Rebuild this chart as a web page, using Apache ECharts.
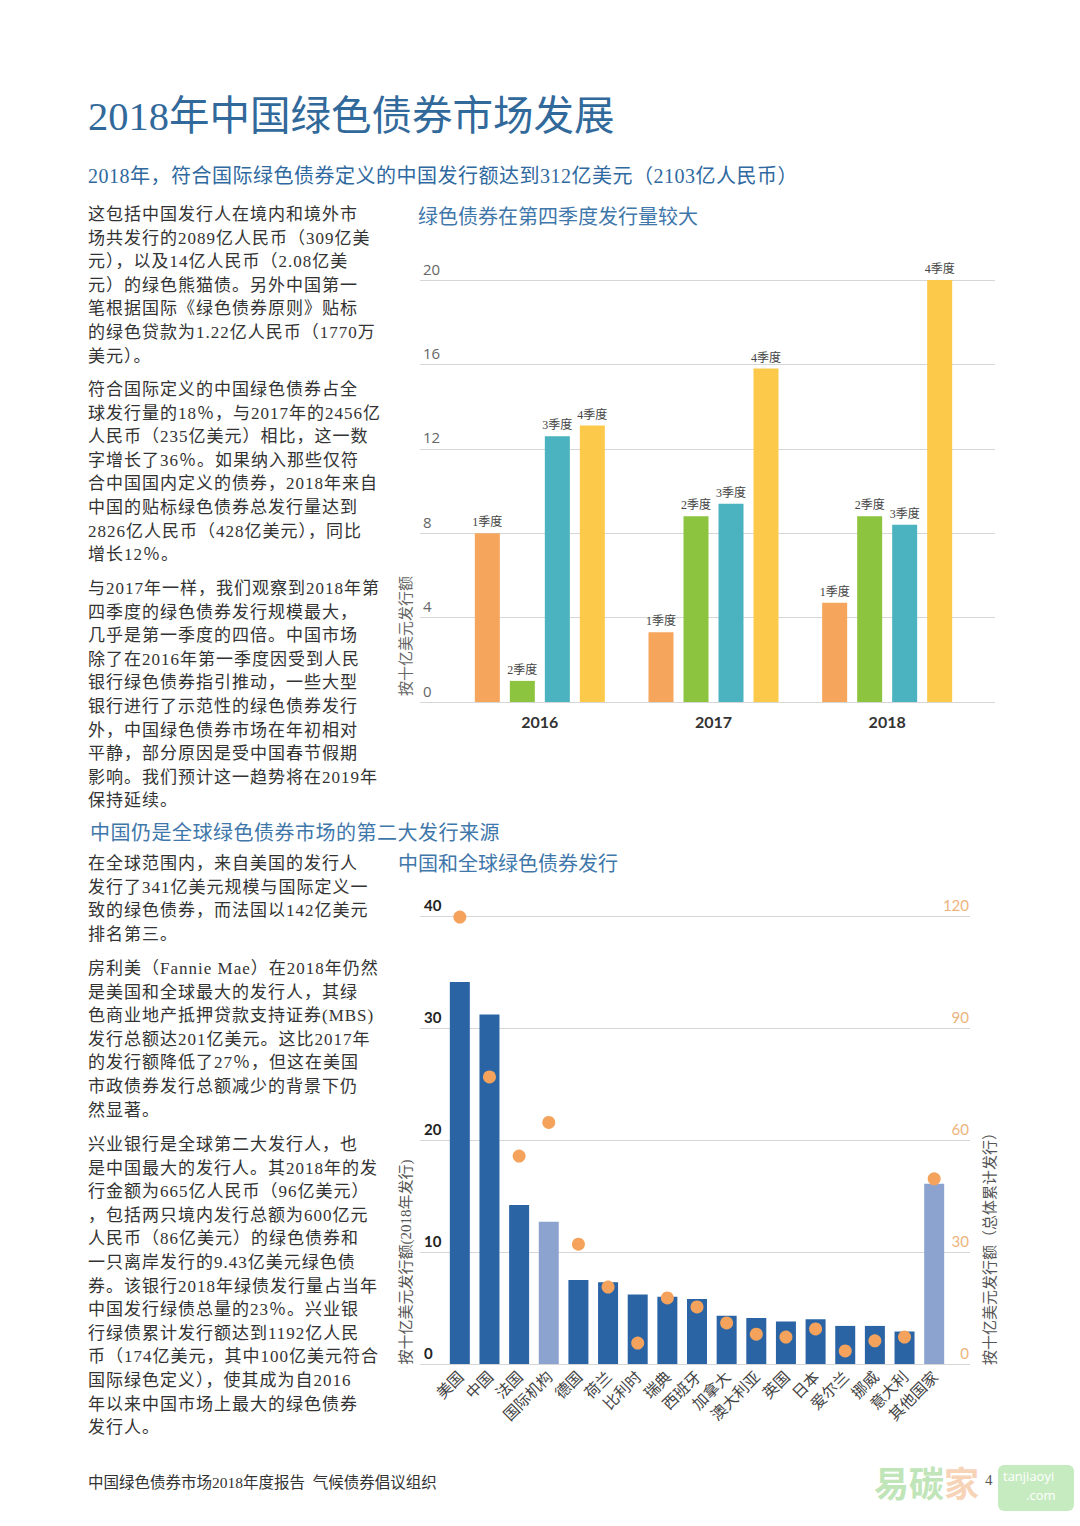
<!DOCTYPE html>
<html><head><meta charset="utf-8">
<script src="https://cdn.jsdelivr.net/npm/echarts@6/dist/echarts.min.js"></script>
<style>
html,body{margin:0;padding:0;background:#fff;}
body{width:1080px;height:1526px;position:relative;overflow:hidden;font-family:"Liberation Serif","Noto Sans CJK SC",serif;}
#chart{position:absolute;left:0;top:0;width:1080px;height:1526px;z-index:1;}
.t{position:absolute;white-space:nowrap;z-index:2;}
.p{left:88px;font-size:17px;line-height:23.6px;letter-spacing:1.0px;color:#333;}
.hd{color:#3670a2;}
.vt{position:absolute;white-space:nowrap;z-index:2;transform:translate(-50%,-50%) rotate(-90deg);font-size:15px;color:#555;}
</style></head>
<body>
<div class="t hd" style="left:88px;top:96px;font-size:40.5px;line-height:42px;color:#32699b;">2018年中国绿色债券市场发展</div>
<div class="t hd" style="left:88px;top:165px;font-size:20px;line-height:22px;letter-spacing:0.5px;color:#2f69a0;">2018年，符合国际绿色债券定义的中国发行额达到312亿美元（2103亿人民币）</div>

<div class="t p" style="top:203px;">这包括中国发行人在境内和境外市<br>场共发行的2089亿人民币（309亿美<br>元），以及14亿人民币（2.08亿美<br>元）的绿色熊猫债。另外中国第一<br>笔根据国际《绿色债券原则》贴标<br>的绿色贷款为1.22亿人民币（1770万<br>美元）。</div>
<div class="t p" style="top:378px;">符合国际定义的中国绿色债券占全<br>球发行量的18％，与2017年的2456亿<br>人民币（235亿美元）相比，这一数<br>字增长了36％。如果纳入那些仅符<br>合中国国内定义的债券，2018年来自<br>中国的贴标绿色债券总发行量达到<br>2826亿人民币（428亿美元），同比<br>增长12％。</div>
<div class="t p" style="top:577px;">与2017年一样，我们观察到2018年第<br>四季度的绿色债券发行规模最大，<br>几乎是第一季度的四倍。中国市场<br>除了在2016年第一季度因受到人民<br>银行绿色债券指引推动，一些大型<br>银行进行了示范性的绿色债券发行<br>外，中国绿色债券市场在年初相对<br>平静，部分原因是受中国春节假期<br>影响。我们预计这一趋势将在2019年<br>保持延续。</div>

<div class="t hd" style="left:418px;top:206px;font-size:20px;line-height:22px;color:#3f77aa;">绿色债券在第四季度发行量较大</div>
<div class="vt" style="left:404px;top:636px;color:#666;">按十亿美元发行额</div>

<div class="t hd" style="left:90px;top:822px;font-size:20px;line-height:22px;letter-spacing:0.5px;color:#3f77aa;">中国仍是全球绿色债券市场的第二大发行来源</div>
<div class="t hd" style="left:398px;top:853px;font-size:20px;line-height:22px;color:#3f77aa;">中国和全球绿色债券发行</div>

<div class="t p" style="top:852px;">在全球范围内，来自美国的发行人<br>发行了341亿美元规模与国际定义一<br>致的绿色债券，而法国以142亿美元<br>排名第三。</div>
<div class="t p" style="top:957px;">房利美（Fannie Mae）在2018年仍然<br>是美国和全球最大的发行人，其绿<br>色商业地产抵押贷款支持证券(MBS)<br>发行总额达201亿美元。这比2017年<br>的发行额降低了27％，但这在美国<br>市政债券发行总额减少的背景下仍<br>然显著。</div>
<div class="t p" style="top:1133px;">兴业银行是全球第二大发行人，也<br>是中国最大的发行人。其2018年的发<br>行金额为665亿人民币（96亿美元）<br>，包括两只境内发行总额为600亿元<br>人民币（86亿美元）的绿色债券和<br>一只离岸发行的9.43亿美元绿色债<br>券。该银行2018年绿债发行量占当年<br>中国发行绿债总量的23％。兴业银<br>行绿债累计发行额达到1192亿人民<br>币（174亿美元，其中100亿美元符合<br>国际绿色定义），使其成为自2016<br>年以来中国市场上最大的绿色债券<br>发行人。</div>

<div class="vt" style="left:404px;top:1262px;">按十亿美元发行额(2018年发行)</div>
<div class="vt" style="left:988px;top:1245px;">按十亿美元发行额（总体累计发行）</div>

<div class="t" style="left:88px;top:1474px;font-size:15.5px;line-height:18px;color:#333;">中国绿色债券市场2018年度报告&nbsp;&nbsp;气候债券倡议组织</div>
<div class="t" style="left:874px;top:1462px;font-size:35px;line-height:40px;font-family:'Noto Sans CJK SC';font-weight:700;z-index:1;"><span style="color:#bfe5b8;">易碳</span><span style="color:#f7d3b8;">家</span></div>
<div style="position:absolute;left:998px;top:1465px;width:76px;height:46px;border-radius:6px;background:#c6ebc0;z-index:1;"></div>
<div class="t" style="left:1003px;top:1468px;color:#fff;font-family:'Open Sans';font-size:13px;line-height:17px;z-index:1;">tanjiaoyi</div>
<div class="t" style="left:1026px;top:1487px;color:#fff;font-family:'Open Sans';font-size:13px;line-height:17px;z-index:1;">.com</div>
<div class="t" style="left:985px;top:1471px;font-size:15px;line-height:18px;color:#555;z-index:3;">4</div>

<div id="chart"></div>
<script>
// ---------- Chart 1 data ----------
const years = ['2016', '2017', '2018'];
const quarterNames = ['1季度', '2季度', '3季度', '4季度'];
const q1Values = [8.0, 3.3, 4.7];
const q2Values = [1.0, 8.8, 8.8];
const q3Values = [12.6, 9.4, 8.4];
const q4Values = [13.1, 15.8, 20.1];
const quarterAxisMax = 20;
const quarterAxisStep = 4;

// ---------- Chart 2 data ----------
const countries = ['美国', '中国', '法国', '国际机构', '德国', '荷兰', '比利时', '瑞典', '西班牙', '加拿大', '澳大利亚', '英国', '日本', '爱尔兰', '挪威', '意大利', '其他国家'];
const issuance2018 = [34.1, 31.2, 14.2, 12.7, 7.5, 7.3, 6.2, 6.0, 5.8, 4.3, 4.1, 3.8, 4.0, 3.4, 3.4, 2.9, 16.1];
const cumulativeIssuance = [119.7, 76.9, 55.7, 64.7, 32.1, 20.6, 5.6, 17.7, 15.3, 11.0, 8.0, 7.2, 9.4, 3.5, 6.2, 7.2, 49.6];
const aggregateGroups = ['国际机构', '其他国家'];
const leftAxisMax = 40, leftAxisStep = 10;
const rightAxisMax = 120, rightAxisStep = 30;

const qColors = ['#F6A55C', '#8CC43F', '#4AB3BF', '#FCC94B'];
const quarterData = [q1Values, q2Values, q3Values, q4Values];
const gridLine = { show: true, lineStyle: { color: '#d6d6d6', width: 1 } };

const chart = echarts.init(document.getElementById('chart'), null, { renderer: 'svg' });
chart.setOption({
  animation: false,
  backgroundColor: 'transparent',
  grid: [
    { left: 420, top: 280, width: 575, height: 422 },
    { left: 453, top: 280, width: 521, height: 422 },
    { left: 420, top: 916, width: 550, height: 448 },
    { left: 445, top: 916, width: 504, height: 448 }
  ],
  xAxis: [
    { gridIndex: 0, type: 'value', show: false, min: 0, max: 1 },
    { gridIndex: 1, type: 'category', data: years,
      axisLine: { show: false }, axisTick: { show: false },
      axisLabel: { margin: 11, fontSize: 16, fontWeight: 'bold', color: '#333', fontFamily: 'Lato' } },
    { gridIndex: 2, type: 'value', show: false, min: 0, max: 1 },
    { gridIndex: 3, type: 'category', data: countries,
      axisLine: { show: false }, axisTick: { show: false },
      axisLabel: { interval: 0, rotate: 45, margin: 9, fontSize: 15.5, color: '#444', fontFamily: 'Noto Sans CJK SC' } }
  ],
  yAxis: [
    { gridIndex: 0, type: 'value', min: 0, max: quarterAxisMax, interval: quarterAxisStep,
      axisLine: { show: false }, axisTick: { show: false }, splitLine: gridLine,
      axisLabel: { inside: true, verticalAlign: 'bottom', margin: 3, padding: [0, 0, 4, 0], fontSize: 15, color: '#666', fontFamily: 'Open Sans' } },
    { gridIndex: 1, type: 'value', min: 0, max: quarterAxisMax, interval: quarterAxisStep, show: false },
    { gridIndex: 2, type: 'value', min: 0, max: leftAxisMax, interval: leftAxisStep,
      axisLine: { show: false }, axisTick: { show: false }, splitLine: gridLine,
      axisLabel: { inside: true, verticalAlign: 'bottom', margin: 4, padding: [0, 0, 4, 0], fontSize: 15, fontWeight: 'bold', color: '#222', fontFamily: 'Lato' } },
    { gridIndex: 2, type: 'value', position: 'right', min: 0, max: rightAxisMax, interval: rightAxisStep,
      axisLine: { show: false }, axisTick: { show: false }, splitLine: { show: false },
      axisLabel: { inside: true, verticalAlign: 'bottom', margin: 1, padding: [0, 0, 4, 0], fontSize: 15, color: '#EDB47E', fontFamily: 'Lato' } },
    { gridIndex: 3, type: 'value', min: 0, max: leftAxisMax, interval: leftAxisStep, show: false },
    { gridIndex: 3, type: 'value', position: 'right', min: 0, max: rightAxisMax, interval: rightAxisStep, show: false }
  ],
  series: quarterNames.map((name, i) => ({
    type: 'bar', name: name, xAxisIndex: 1, yAxisIndex: 1,
    data: quarterData[i], barWidth: 25, barGap: '40%',
    itemStyle: { color: qColors[i] },
    label: { show: true, position: 'top', distance: 5, formatter: name, fontSize: 12, color: '#444', fontFamily: 'Liberation Serif, Noto Sans CJK SC' }
  })).concat([
    { type: 'bar', name: '2018年发行', xAxisIndex: 3, yAxisIndex: 4, data: issuance2018, barWidth: 20,
      itemStyle: { color: p => aggregateGroups.includes(p.name) ? '#8DA3CF' : '#2A64A5' } },
    { type: 'scatter', name: '总体累计发行', xAxisIndex: 3, yAxisIndex: 5, data: cumulativeIssuance,
      symbolSize: 13, itemStyle: { color: '#F5A35C', opacity: 1 }, z: 5 }
  ])
});
</script>
</body></html>
